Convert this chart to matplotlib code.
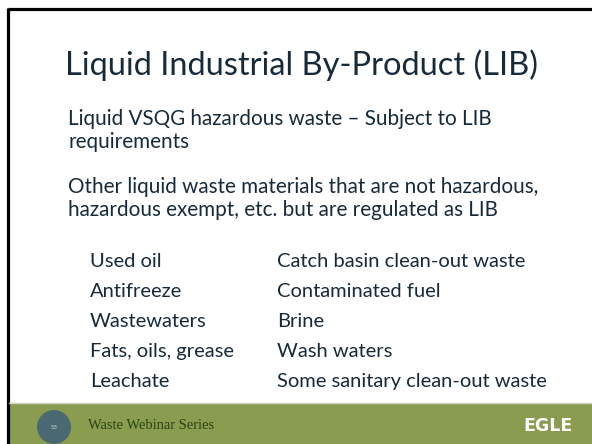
import matplotlib.pyplot as plt
from matplotlib.patches import Rectangle, Circle

# slide content
title = "Liquid Industrial By-Product (LIB)"
para1 = ["Liquid VSQG hazardous waste \u2013 Subject to LIB", "requirements"]
para2 = ["Other liquid waste materials that are not hazardous,",
         "hazardous exempt, etc. but are regulated as LIB"]
left_items = ["Used oil", "Antifreeze", "Wastewaters", "Fats, oils, grease", "Leachate"]
right_items = ["Catch basin clean-out waste", "Contaminated fuel", "Brine",
               "Wash waters", "Some sanitary clean-out waste"]
footer_text = "Waste Webinar Series"
slide_number = "53"
logo = "EGLE"

W, H = 592, 444
text_color = "#172a3a"
green = "#899c4f"
font = "Lato"

fig = plt.figure(figsize=(W / 100, H / 100), dpi=100)
ax = fig.add_axes([0, 0, 1, 1])
ax.set_xlim(0, W)
ax.set_ylim(H, 0)
ax.axis("off")
renderer = fig.canvas.get_renderer()


def fit_size(s, width, family, weight="normal"):
    # font size (pt) that makes string s about `width` pixels wide
    t = ax.text(0, 0, s, fontsize=10, family=family, weight=weight)
    w = t.get_window_extent(renderer).width
    t.remove()
    return 10 * width / w


# frame
ax.plot([8, W + 5], [9.5, 9.5], color="black", lw=2.3, solid_capstyle="butt")
ax.plot([8, 8], [8.5, H + 5], color="black", lw=2.3, solid_capstyle="butt")

# footer band
ax.add_patch(Rectangle((9, 404), W, 41, color=green, lw=0))
ax.plot([9, W], [403, 403], color="#cdd3bf", lw=1)
ax.add_patch(Circle((54, 427), 17, color="#4b6972", lw=0))
ax.text(54, 427, slide_number, color="#c9d3d6", fontsize=4, ha="center", va="center",
        family="DejaVu Sans")
ax.text(88, 429, footer_text, color="#2a4313",
        fontsize=fit_size(footer_text, 126, "Liberation Serif"),
        ha="left", va="baseline", family="Liberation Serif")
ax.text(523, 431, logo, color="white",
        fontsize=fit_size(logo, 49, "DejaVu Sans", "bold"),
        ha="left", va="baseline", family="DejaVu Sans", weight="bold")

# title
ax.text(65, 75, title, color=text_color, fontsize=fit_size(title, 473, font),
        ha="left", va="baseline", family=font)

# body paragraphs
body_size = fit_size(para1[0], 424, font)
for line, y in zip(para1 + para2, [125, 148, 193, 216]):
    ax.text(68, y, line, color=text_color, fontsize=body_size,
            ha="left", va="baseline", family=font)

# two-column list
list_size = (fit_size(left_items[3], 152, font) * fit_size(right_items[-1], 257, font)) ** 0.5
for i, (a, b) in enumerate(zip(left_items, right_items)):
    y = 267 + 30 * i
    ax.text(90, y, a, color=text_color, fontsize=list_size, ha="left", va="baseline", family=font)
    ax.text(277, y, b, color=text_color, fontsize=list_size, ha="left", va="baseline", family=font)

fig.savefig("out.png", dpi=100, facecolor="white")
